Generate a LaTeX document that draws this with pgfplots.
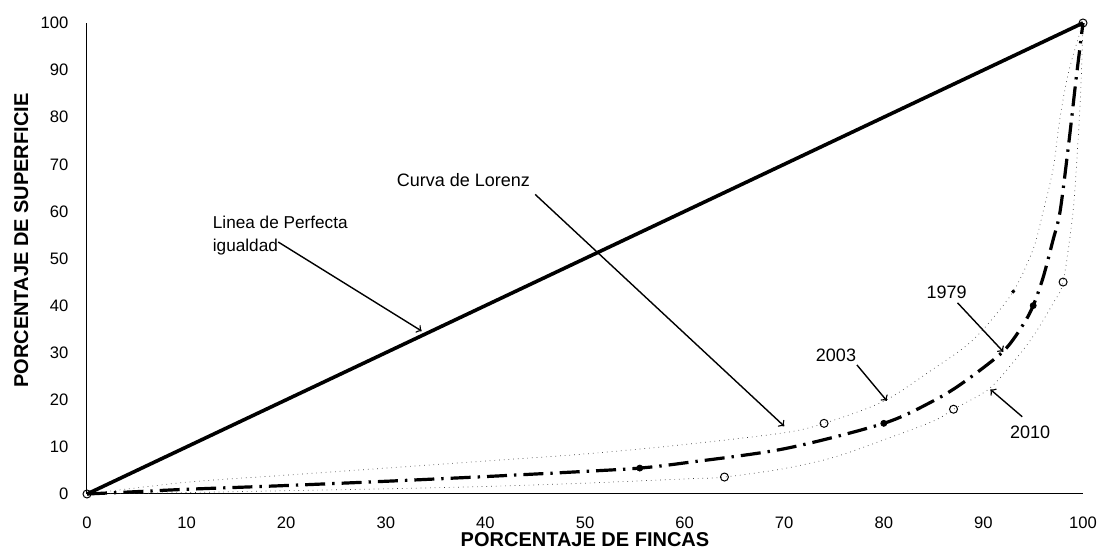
\documentclass[border=0pt]{standalone}
\usepackage{fontspec}
\setmainfont{Liberation Sans}
\usepackage{pgfplots}
\pgfplotsset{compat=1.18}
\begin{document}
\begin{tikzpicture}
\begin{axis}[
  scale only axis,
  width=498pt, height=235.5pt,
  xmin=0, xmax=100, ymin=0, ymax=100,
  axis x line=bottom, axis y line=left,
  axis line style={-, line width=0.5pt},
  xtick={0,10,...,100}, ytick={0,10,...,100},
  tick style={draw=none},
  /pgf/number format/assume math mode=true,
  ticklabel style={font=\fontsize{8.3}{9}\selectfont},
  yticklabel style={inner sep=0pt, xshift=-7pt},
  xticklabel style={inner sep=0pt, yshift=-9pt},
  xlabel={\bfseries PORCENTAJE DE FINCAS},
  ylabel={\bfseries PORCENTAJE DE SUPERFICIE},
  xlabel style={font=\fontsize{8.5}{10}\selectfont},
  ylabel style={font=\fontsize{8.9}{10}\selectfont},
  every axis x label/.style={at={(axis description cs:0.5,-0.097)}, anchor=center},
  every axis y label/.style={at={(axis description cs:-0.066,0.538)}, anchor=center, rotate=90},
  clip=false,
]
% Linea de perfecta igualdad
\addplot[black, line width=1.8pt] coordinates {(0,0) (100,100)};
% 2003
\addplot[black!75, line width=0.35pt, dotted, smooth, tension=0.5] coordinates {
(0,0) (10,2.5) (20,4) (30,5.5) (40,7) (50,8.5) (60,10.5) (70,13) (74,15) (80,19.7)
(85,26.6) (88,31) (90,35) (93,43) (95,52) (96,60) (97,69) (97.7,80) (98.6,90) (100,100)};
% 2010
\addplot[black!75, line width=0.35pt, dotted, smooth, tension=0.5] coordinates {
(0,0) (10,0.3) (20,0.7) (30,1.1) (40,1.6) (50,2.3) (60,3.2) (64,3.6) (70,5.4) (75,7.8)
(80,11.5) (85,15.5) (87,18) (90.5,22.2) (93,28) (95,33.5) (97,40.5) (98,45) (99,60)
(99.5,75) (99.8,87) (100,100)};
% 1979
\addplot[black, line width=1.6pt, dash pattern=on 10pt off 3.5pt on 1.2pt off 3.5pt, smooth, tension=0.5] coordinates {
(0,0) (5,0.5) (10,1) (20,1.8) (30,2.7) (40,3.7) (50,4.8) (55.5,5.5) (60,6.6) (70,9.6)
(80,15) (85,19.8) (88,23.7) (92,30.3) (94,36) (95,40) (96,46) (97,54) (97.7,60)
(98.6,75) (99.3,88) (100,100)};
% markers
\addplot[only marks, mark=o, mark size=2pt, black, line width=0.5pt] coordinates {(0,0) (74,15) (64,3.6) (87,18) (98,45) (100,100)};
\addplot[only marks, mark=*, mark size=1.5pt, black] coordinates {(55.5,5.5) (80,15) (95,40)};
\addplot[only marks, mark=*, mark size=0.8pt, black] coordinates {(93,43)};
% annotations
\node[anchor=west, align=left, font=\fontsize{8.6}{11.5}\selectfont, inner sep=0pt] at (axis cs:12.6,54.8) {Linea de Perfecta\\igualdad};
\draw[->, line width=0.7pt] (axis cs:19.2,53.5) -- (axis cs:33.6,34.6);
\node[font=\fontsize{9}{11}\selectfont] at (axis cs:37.8,66.6) {Curva de Lorenz};
\draw[->, line width=0.7pt] (axis cs:45,63.6) -- (axis cs:70,14.4);
\node[font=\fontsize{9}{11}\selectfont] at (axis cs:75.2,29.5) {2003};
\draw[->, line width=0.7pt] (axis cs:77.3,27.4) -- (axis cs:80.3,19.8);
\node[font=\fontsize{9}{11}\selectfont] at (axis cs:86.3,42.9) {1979};
\draw[->, line width=0.7pt] (axis cs:87.4,40.6) -- (axis cs:92,30.2);
\node[font=\fontsize{9}{11}\selectfont] at (axis cs:94.7,13.2) {2010};
\draw[->, line width=0.7pt] (axis cs:93.9,16.4) -- (axis cs:90.7,22.2);
\coordinate (BL) at (rel axis cs:0,0);
\coordinate (TR) at (rel axis cs:1,1);
\end{axis}
\pgfresetboundingbox
\path ([shift={(-43.5pt,-28.5pt)}]BL) rectangle ([shift={(7.5pt,11.5pt)}]TR);
\end{tikzpicture}
\end{document}
